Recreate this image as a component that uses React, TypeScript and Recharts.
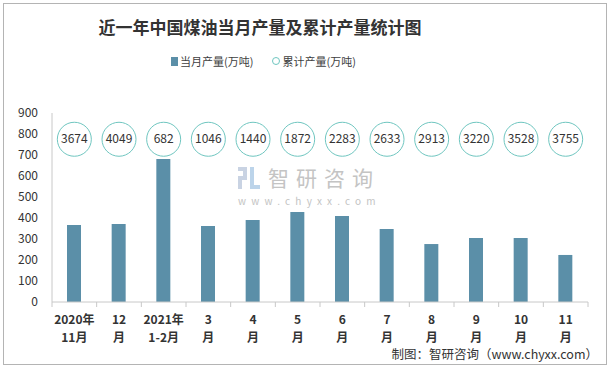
import React from "react";
import { ComposedChart, Bar, Line, XAxis, YAxis } from "recharts";

const months = [
  "2020年\n11月",
  "12\n月",
  "2021年\n1-2月",
  "3\n月",
  "4\n月",
  "5\n月",
  "6\n月",
  "7\n月",
  "8\n月",
  "9\n月",
  "10\n月",
  "11\n月",
];
const monthly = [367, 371, 681, 362, 390, 428, 410, 348, 276, 305, 305, 224];
const cumulative = [3674, 4049, 682, 1046, 1440, 1872, 2283, 2633, 2913, 3220, 3528, 3755];
const yTicks = [0, 100, 200, 300, 400, 500, 600, 700, 800, 900];
// helper level the cumulative bubbles sit on (same as the source chart)
const bubbleLevel = 775;

const data = months.map((m, i) => ({
  month: m,
  monthly: monthly[i],
  cumulative: cumulative[i],
  level: bubbleLevel,
}));

const FONT = '"Noto Sans CJK SC", "Noto Sans", sans-serif';
const BAR_COLOR = "#5b8fa8";
const RING_COLOR = "#6fc6c0";
const AXIS_COLOR = "#c8c8c8";
const PLOT_W = 536;

function MonthTick(props: any) {
  const { x, y, payload, index } = props;
  const half = PLOT_W / months.length / 2;
  const lines = String(payload.value).split("\n");
  return (
    <g>
      <line x1={x - half} x2={x - half} y1={y} y2={y + 5} stroke={AXIS_COLOR} />
      {index === months.length - 1 && (
        <line x1={x + half} x2={x + half} y1={y} y2={y + 5} stroke={AXIS_COLOR} />
      )}
      <text
        x={x}
        y={y + 22}
        textAnchor="middle"
        fontSize={12}
        fontWeight="bold"
        fill="#333"
        fontFamily={FONT}
      >
        {lines.map((l, k) => (
          <tspan key={k} x={x} dy={k === 0 ? 0 : 18}>
            {l}
          </tspan>
        ))}
      </text>
    </g>
  );
}

function Bubble(props: any) {
  const { cx, cy, payload } = props;
  if (cx == null || cy == null) return null;
  return (
    <g>
      <circle cx={cx} cy={cy} r={17} fill="#fff" stroke={RING_COLOR} strokeWidth={1} />
      <text
        x={cx}
        y={cy + 4}
        textAnchor="middle"
        fontSize={12}
        fill="#333"
        fontFamily={FONT}
      >
        {payload.cumulative}
      </text>
    </g>
  );
}

export default function App() {
  return (
    <div
      style={{
        position: "absolute",
        left: 0,
        top: 0,
        width: 614,
        height: 368,
        background: "#fff",
        fontFamily: FONT,
        overflow: "hidden",
      }}
    >
      <div
        style={{
          position: "absolute",
          left: 3,
          top: 3,
          width: 602,
          height: 360,
          border: "1px solid #b4b4b4",
        }}
      />
      <div
        style={{
          position: "absolute",
          left: 0,
          top: 14,
          width: 520,
          textAlign: "center",
          fontSize: 17,
          fontWeight: "bold",
          color: "#333",
          lineHeight: "26px",
          whiteSpace: "nowrap",
        }}
      >
        近一年中国煤油当月产量及累计产量统计图
      </div>

      {/* legend */}
      <div
        style={{
          position: "absolute",
          left: 171,
          top: 52,
          height: 18,
          display: "flex",
          alignItems: "center",
          fontSize: 11,
          lineHeight: "18px",
          color: "#404040",
          whiteSpace: "nowrap",
        }}
      >
        <span style={{ width: 7, height: 9, background: BAR_COLOR, marginRight: 2 }} />
        <span>当月产量(万吨)</span>
        <span
          style={{
            width: 6,
            height: 6,
            borderRadius: "50%",
            border: `1px solid ${RING_COLOR}`,
            marginLeft: 19,
            marginRight: 2,
          }}
        />
        <span>累计产量(万吨)</span>
      </div>

      {/* watermark */}
      <div style={{ position: "absolute", left: 238, top: 164, pointerEvents: "none" }}>
        <svg width={22} height={22} style={{ position: "absolute", left: 0, top: 3 }}>
          <rect x={0} y={0} width={9} height={4} fill="#c9d3e3" />
          <rect x={5} y={0} width={4} height={12} fill="#c9d3e3" />
          <rect x={0} y={9} width={9} height={4} fill="#c9d3e3" />
          <rect x={0} y={9} width={4} height={13} fill="#c9d3e3" />
          <rect x={12} y={0} width={4} height={22} fill="#bcd4ea" />
          <rect x={12} y={18} width={10} height={4} fill="#bcd4ea" />
        </svg>
        <div
          style={{
            position: "absolute",
            left: 30,
            top: 3,
            fontSize: 21,
            letterSpacing: 7,
            color: "#c4c4c4",
            whiteSpace: "nowrap",
            lineHeight: "21px",
          }}
        >
          智研咨询
        </div>
        <div
          style={{
            position: "absolute",
            left: 0,
            top: 31,
            fontSize: 10,
            lineHeight: "11px",
            letterSpacing: 5.2,
            color: "#c4c4c4",
            whiteSpace: "nowrap",
          }}
        >
          www.chyxx.com
        </div>
      </div>

      <div style={{ position: "absolute", left: 0, top: 0 }}>
        <ComposedChart
          width={614}
          height={368}
          data={data}
          margin={{ top: 113, right: 26, bottom: 0, left: 0 }}
        >
          <XAxis
            dataKey="month"
            interval={0}
            height={66}
            axisLine={{ stroke: AXIS_COLOR }}
            tickLine={false}
            tickSize={0}
            tickMargin={0}
            tick={<MonthTick />}
          />
          <YAxis
            domain={[0, 900]}
            ticks={yTicks}
            width={52}
            axisLine={{ stroke: AXIS_COLOR }}
            tickLine={false}
            tickSize={0}
            tickMargin={14}
            tick={{ fontSize: 12, fill: "#333", fontFamily: FONT }}
          />
          <Bar dataKey="monthly" fill={BAR_COLOR} barSize={14} isAnimationActive={false} />
          <Line
            dataKey="level"
            stroke="none"
            dot={<Bubble />}
            activeDot={false}
            isAnimationActive={false}
          />
        </ComposedChart>
      </div>

      <div
        style={{
          position: "absolute",
          right: 16,
          top: 346,
          fontSize: 12.5,
          lineHeight: "15px",
          color: "#333",
          whiteSpace: "nowrap",
        }}
      >
        制图：智研咨询（www.chyxx.com）
      </div>
    </div>
  );
}
